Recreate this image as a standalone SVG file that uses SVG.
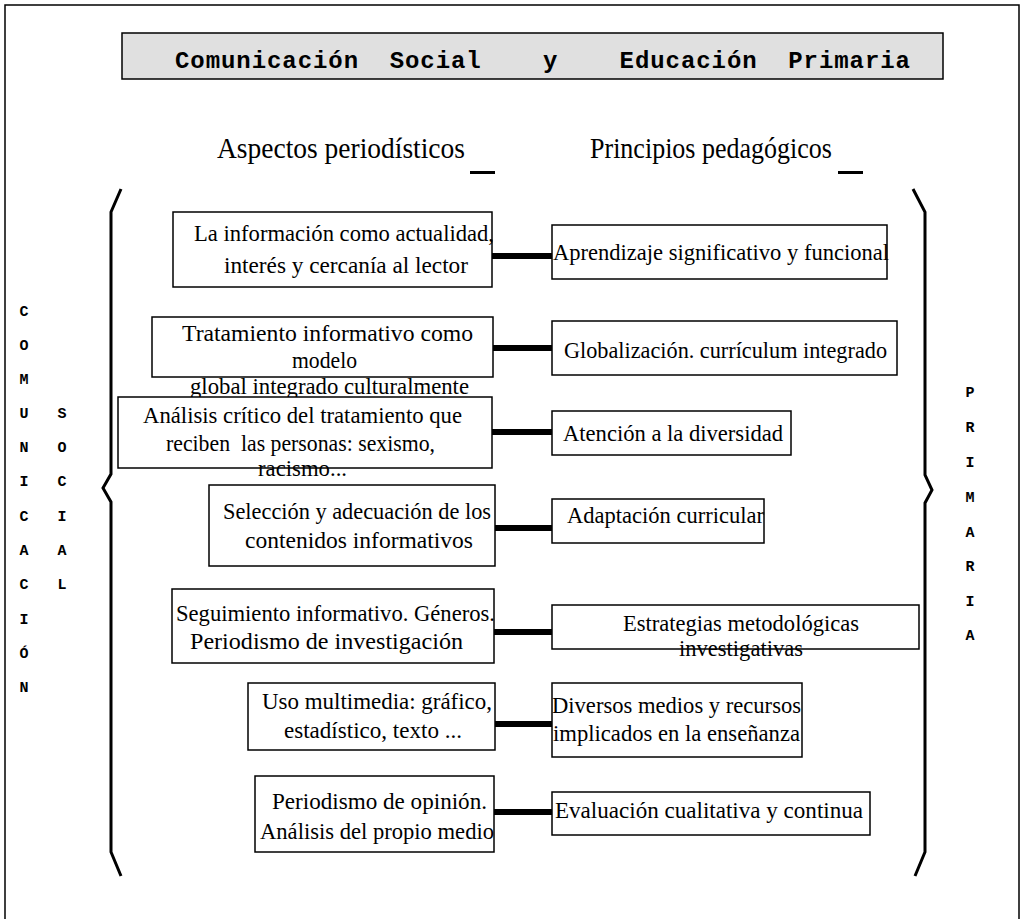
<svg xmlns="http://www.w3.org/2000/svg" width="1024" height="919" viewBox="0 0 1024 919">
<style>
.box{fill:#fff;stroke:#000;stroke-width:1.5}
.t{font-family:"Liberation Serif","Times New Roman",serif;font-size:23.5px;fill:#000}
.h{font-family:"Liberation Serif","Times New Roman",serif;font-size:29px;fill:#000}
.m{font-family:"Liberation Mono","Courier New",monospace;font-weight:bold;fill:#000}
.v{font-family:"Liberation Mono","Courier New",monospace;font-weight:bold;font-size:15px;fill:#000;text-anchor:middle}
.br{fill:none;stroke:#000;stroke-width:3}
.c{stroke:#000;stroke-width:6}
</style>
<rect width="1024" height="919" fill="#fff"/>
<path d="M5,919 V5 H1019 V919" fill="none" stroke="#000" stroke-width="1.5"/>
<g id="title">
<rect x="122" y="33" width="821" height="46" fill="#e0e0e0" stroke="#000" stroke-width="1.5"/>
<text class="m" x="175" y="68" font-size="24" textLength="735" xml:space="preserve">Comunicación  Social    y    Educación  Primaria</text>
</g>
<g id="headings">
<text class="h" x="217" y="158" textLength="248" lengthAdjust="spacingAndGlyphs">Aspectos  periodísticos</text>
<rect x="470" y="171" width="25" height="3"/>
<text class="h" x="590" y="158" textLength="242" lengthAdjust="spacingAndGlyphs">Principios  pedagógicos</text>
<rect x="838" y="171" width="25" height="3"/>
</g>
<g id="brackets">
<path class="br" d="M121,189 L111,212 V474 L103,488 L111,502 V852 L121,876"/>
<path class="br" d="M913,189 L925,212 V475 L932,490 L925,503 V852 L915,876"/>
</g>
<g id="side-labels">
<text class="v" x="24" y="316">C</text>
<text class="v" x="24" y="350">O</text>
<text class="v" x="24" y="384">M</text>
<text class="v" x="24" y="418">U</text>
<text class="v" x="24" y="452">N</text>
<text class="v" x="24" y="486">I</text>
<text class="v" x="24" y="521">C</text>
<text class="v" x="24" y="555">A</text>
<text class="v" x="24" y="589">C</text>
<text class="v" x="24" y="624">I</text>
<text class="v" x="24" y="658">Ó</text>
<text class="v" x="24" y="692">N</text>
<text class="v" x="62" y="418">S</text>
<text class="v" x="62" y="452">O</text>
<text class="v" x="62" y="486">C</text>
<text class="v" x="62" y="521">I</text>
<text class="v" x="62" y="555">A</text>
<text class="v" x="62" y="589">L</text>
<text class="v" x="970" y="397">P</text>
<text class="v" x="970" y="432">R</text>
<text class="v" x="970" y="467">I</text>
<text class="v" x="970" y="502">M</text>
<text class="v" x="970" y="537">A</text>
<text class="v" x="970" y="571">R</text>
<text class="v" x="970" y="606">I</text>
<text class="v" x="970" y="640">A</text>
</g>
<g id="connectors">
<line class="c" x1="492" y1="256" x2="552" y2="256"/>
<line class="c" x1="493" y1="348" x2="552" y2="348"/>
<line class="c" x1="492" y1="432" x2="552" y2="432"/>
<line class="c" x1="495" y1="528" x2="552" y2="528"/>
<line class="c" x1="494" y1="632" x2="552" y2="632"/>
<line class="c" x1="495" y1="724" x2="552" y2="724"/>
<line class="c" x1="494" y1="812" x2="552" y2="812"/>
</g>
<g id="a1">
<rect class="box" x="173" y="212" width="319" height="75"/>
<text class="t" x="194" y="241" textLength="300" lengthAdjust="spacingAndGlyphs">La información como actualidad,</text>
<text class="t" x="224" y="273" textLength="244" lengthAdjust="spacingAndGlyphs">interés y cercanía al lector</text>
</g>
<g id="a2">
<rect class="box" x="152" y="317" width="341" height="60"/>
<text class="t" x="182" y="341" textLength="291" lengthAdjust="spacingAndGlyphs">Tratamiento informativo como</text>
<text class="t" x="292" y="368" textLength="65" lengthAdjust="spacingAndGlyphs">modelo</text>
<text class="t" x="190" y="394" textLength="279" lengthAdjust="spacingAndGlyphs">global integrado culturalmente</text>
</g>
<g id="a3">
<rect class="box" x="118" y="397" width="374" height="71"/>
<text class="t" x="143" y="423" textLength="319" lengthAdjust="spacingAndGlyphs">Análisis crítico del tratamiento que</text>
<text class="t" x="166" y="451" textLength="269" lengthAdjust="spacingAndGlyphs" xml:space="preserve">reciben  las personas: sexismo,</text>
<text class="t" x="258" y="476" textLength="89" lengthAdjust="spacingAndGlyphs">racismo...</text>
</g>
<g id="a4">
<rect class="box" x="209" y="485" width="286" height="81"/>
<text class="t" x="223" y="519" textLength="268" lengthAdjust="spacingAndGlyphs">Selección y adecuación de los</text>
<text class="t" x="245" y="548" textLength="228" lengthAdjust="spacingAndGlyphs">contenidos informativos</text>
</g>
<g id="a5">
<rect class="box" x="172" y="589" width="322" height="74"/>
<text class="t" x="176" y="621" textLength="319" lengthAdjust="spacingAndGlyphs">Seguimiento informativo. Géneros.</text>
<text class="t" x="190" y="649" textLength="273" lengthAdjust="spacingAndGlyphs">Periodismo de investigación</text>
</g>
<g id="a6">
<rect class="box" x="248" y="683" width="247" height="67"/>
<text class="t" x="262" y="709" textLength="230" lengthAdjust="spacingAndGlyphs">Uso multimedia: gráfico,</text>
<text class="t" x="284" y="738" textLength="178" lengthAdjust="spacingAndGlyphs">estadístico, texto ...</text>
</g>
<g id="a7">
<rect class="box" x="255" y="776" width="239" height="76"/>
<text class="t" x="272" y="809" textLength="215" lengthAdjust="spacingAndGlyphs">Periodismo de opinión.</text>
<text class="t" x="260" y="839" textLength="234" lengthAdjust="spacingAndGlyphs">Análisis del propio medio</text>
</g>
<g id="p1">
<rect class="box" x="552" y="225" width="335" height="54"/>
<text class="t" x="553" y="260" textLength="336" lengthAdjust="spacingAndGlyphs">Aprendizaje significativo y funcional</text>
</g>
<g id="p2">
<rect class="box" x="552" y="321" width="345" height="54"/>
<text class="t" x="564" y="358" textLength="323" lengthAdjust="spacingAndGlyphs">Globalización. currículum integrado</text>
</g>
<g id="p3">
<rect class="box" x="552" y="411" width="239" height="44"/>
<text class="t" x="563" y="441" textLength="220" lengthAdjust="spacingAndGlyphs">Atención a la diversidad</text>
</g>
<g id="p4">
<rect class="box" x="552" y="499" width="212" height="44"/>
<text class="t" x="567" y="523" textLength="197" lengthAdjust="spacingAndGlyphs">Adaptación curricular</text>
</g>
<g id="p5">
<rect class="box" x="552" y="605" width="367" height="44"/>
<text class="t" x="623" y="631" textLength="236" lengthAdjust="spacingAndGlyphs">Estrategias metodológicas</text>
<text class="t" x="679" y="656" textLength="124" lengthAdjust="spacingAndGlyphs">investigativas</text>
</g>
<g id="p6">
<rect class="box" x="552" y="683" width="250" height="74"/>
<text class="t" x="552" y="713" textLength="249" lengthAdjust="spacingAndGlyphs">Diversos medios y recursos</text>
<text class="t" x="553" y="741" textLength="247" lengthAdjust="spacingAndGlyphs">implicados en la enseñanza</text>
</g>
<g id="p7">
<rect class="box" x="552" y="792" width="318" height="43"/>
<text class="t" x="555" y="818" textLength="308" lengthAdjust="spacingAndGlyphs">Evaluación cualitativa y continua</text>
</g>
</svg>
